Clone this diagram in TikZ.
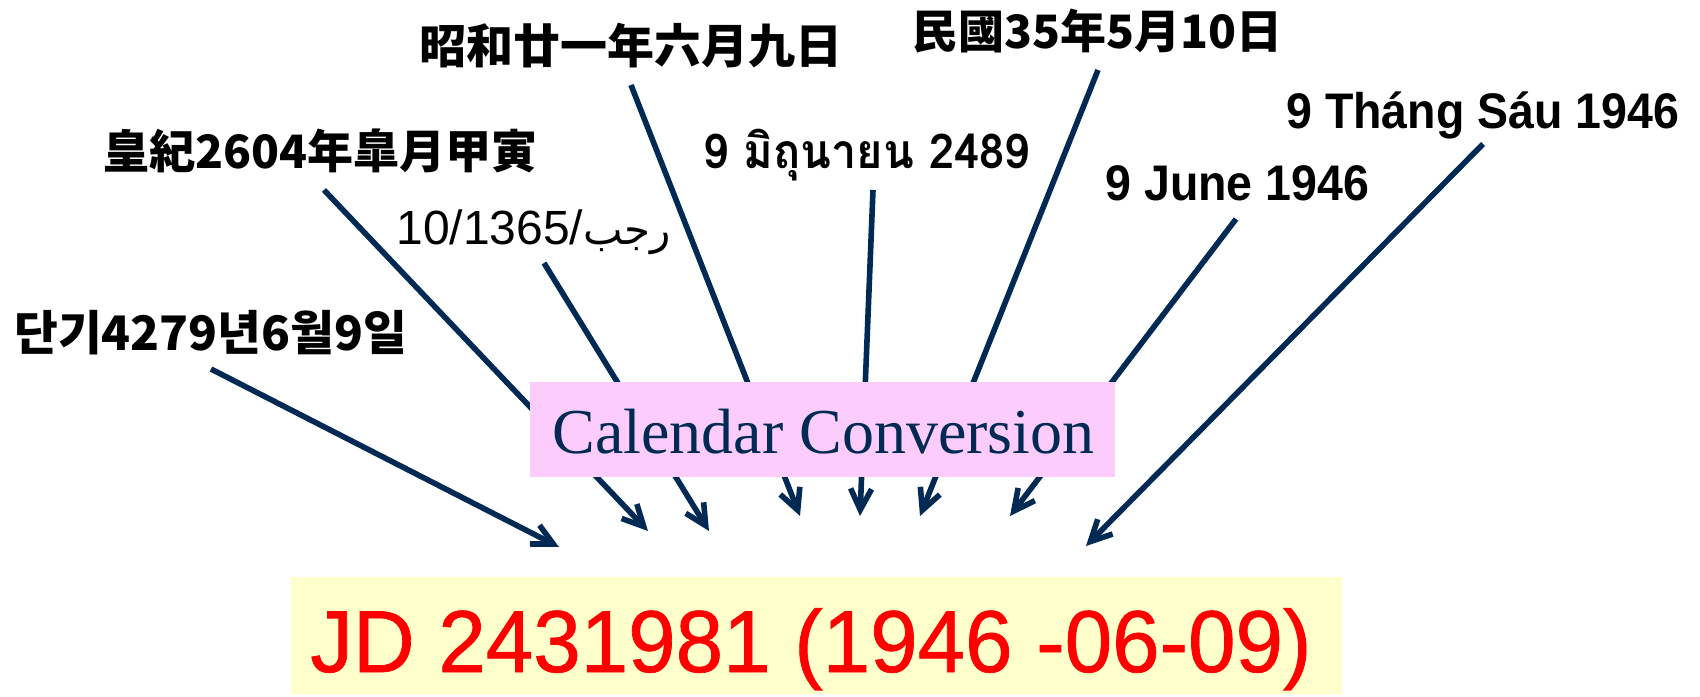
\documentclass[tikz,border=0pt]{standalone}
\usepackage{fontspec}
\usetikzlibrary{arrows.meta}
\TeXXeTstate=1
\setmainfont{Liberation Sans}
\newfontfamily\latn[FakeStretch=0.93]{Liberation Sans}
\newfontfamily\jdfont[FakeStretch=0.97,FakeBold=0.8]{Liberation Sans}
\newfontfamily\seriffont{Liberation Serif}
\newfontfamily\jpfont{Noto Sans CJK JP}
\newfontfamily\tcfont{Noto Sans CJK TC}
\newfontfamily\krfont{Noto Sans CJK KR}
\newfontfamily\thaifont[Script=Thai,FakeStretch=0.94]{Loma}
\newfontfamily\arabicfont[Script=Arabic]{DejaVu Sans}
\definecolor{navy}{RGB}{0,42,84}
\definecolor{pinkbox}{RGB}{252,204,252}
\definecolor{yellowbox}{RGB}{255,255,204}
\definecolor{jdred}{RGB}{255,0,0}
\begin{document}
\begin{tikzpicture}[x=0.5pt,y=-0.5pt,
  lab/.style={anchor=base west,inner sep=0pt,text=black},
  arr/.style={draw=navy,line width=2.8pt,-{Straight Barb[length=10.5pt,width=10.5pt]}}]
\useasboundingbox (0,0) rectangle (1700,696);
% boxes
\node[fill=yellowbox,inner sep=0pt,minimum width=525.5pt,minimum height=58.5pt] (jdbox) at (816.5,635.5) {};
% arrow coordinates
\coordinate (s1) at (211,369);  \coordinate (e1) at (559,547);
\coordinate (s2) at (324,190);  \coordinate (e2) at (648,531);
\coordinate (s3) at (544,263);  \coordinate (e3) at (709,531);
\coordinate (s4) at (631,85);   \coordinate (e4) at (800,516);
\coordinate (s5) at (873,190);  \coordinate (e5) at (860,516);
\coordinate (s6) at (1098,70);  \coordinate (e6) at (920,516);
\coordinate (s7) at (1236,219); \coordinate (e7) at (1010,516);
\coordinate (s8) at (1483,144); \coordinate (e8) at (1086,546);
\foreach \i in {1,...,8} {\draw[arr] (s\i) -- (e\i);}
% conversion box
\node[fill=pinkbox,inner sep=0pt,minimum width=292.5pt,minimum height=47.5pt] (conv) at (822.5,429.5) {};
\node[anchor=base west,inner sep=0pt,text=navy,font=\seriffont\fontsize{32}{32}\selectfont] (convtext) at (552,453) {Calendar Conversion};
% result
\node[anchor=base west,inner sep=0pt,text=jdred,font=\jdfont\fontsize{44}{44}\selectfont] (jdtext) at (310,672) {JD 2431981 (1946 -06-09)};
% labels
\node[lab,font=\jpfont\bfseries\fontsize{23.5}{23.5}\selectfont] (showa) at (419,63) {昭和廿一年六月九日};
\node[lab,font=\jpfont\bfseries\fontsize{23}{23}\selectfont] (koki) at (103,168) {皇紀2604年皐月甲寅};
\node[lab,font=\fontsize{24}{24}\selectfont] (hijri) at (396,244) {10/1365/{\arabicfont\fontsize{21}{21}\selectfont\beginR رجب\endR}};
\node[lab,font=\krfont\bfseries\fontsize{23.8}{23.8}\selectfont] (dangi) at (14,350) {단기4279년6월9일};
\node[lab,font=\thaifont\bfseries\fontsize{24}{24}\selectfont] (thai) at (703,168) {9 มิถุนายน 2489};
\node[lab,font=\tcfont\bfseries\fontsize{23}{23}\selectfont] (minguo) at (912,48) {民國35年5月10日};
\node[lab,font=\latn\bfseries\fontsize{25}{25}\selectfont] (june) at (1105,200) {9 June 1946};
\node[lab,font=\latn\bfseries\fontsize{25}{25}\selectfont] (viet) at (1286,128) {9 Tháng Sáu 1946};
\end{tikzpicture}
\end{document}
